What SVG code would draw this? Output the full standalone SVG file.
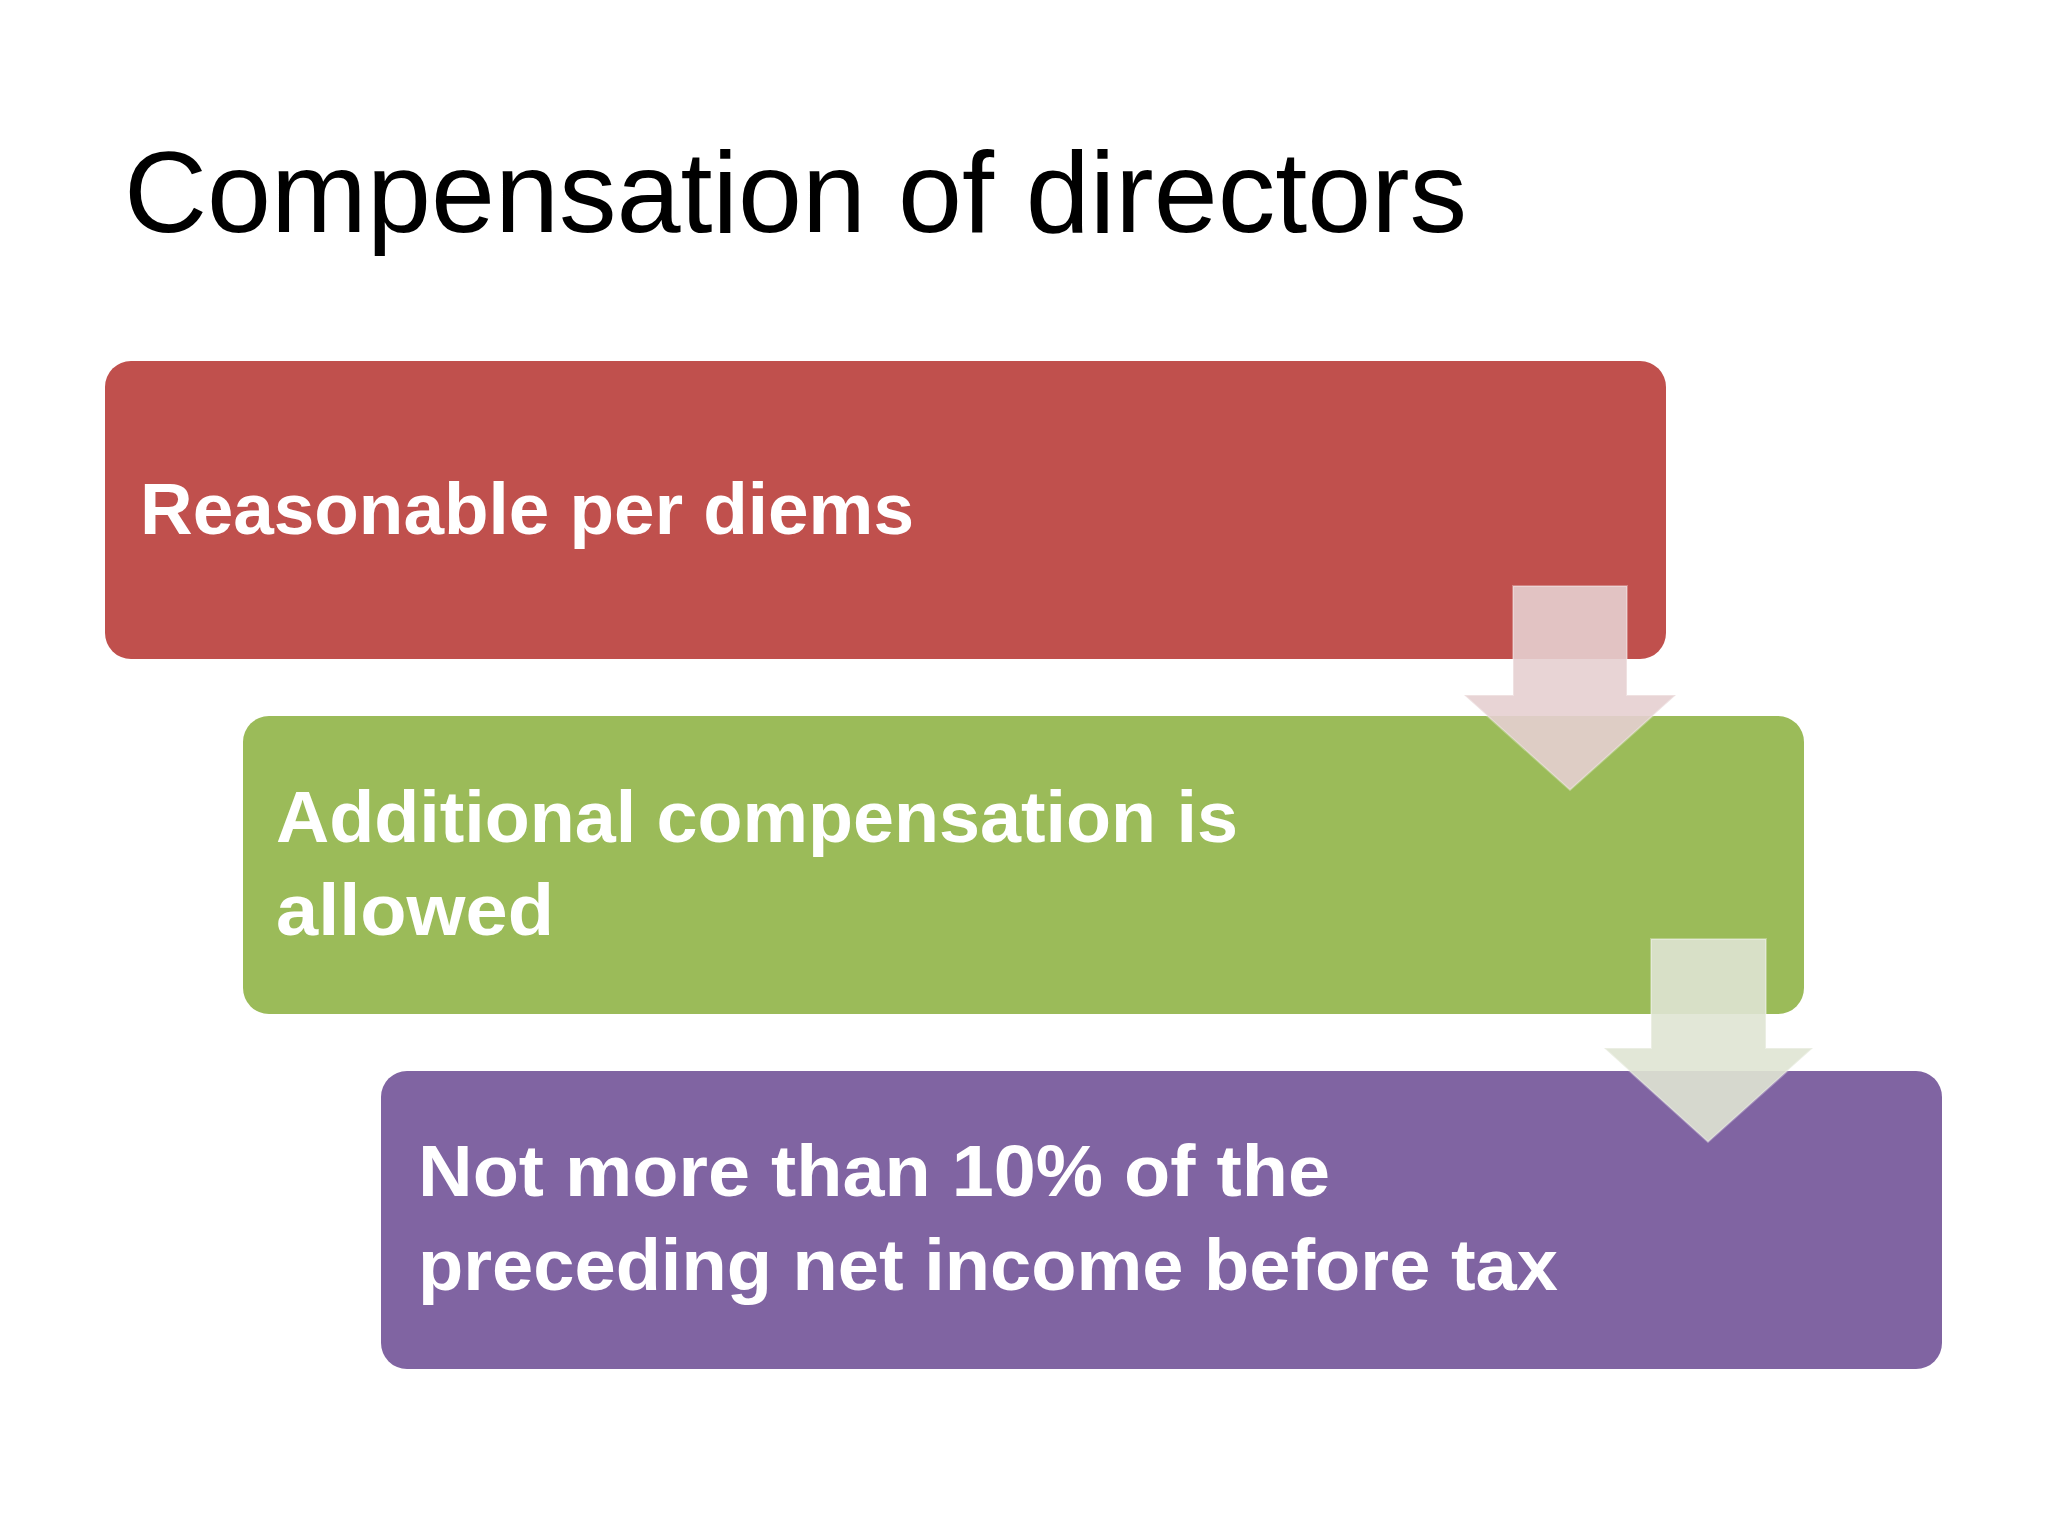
<svg xmlns="http://www.w3.org/2000/svg" width="2048" height="1536" viewBox="0 0 2048 1536">
<style>
.title{font-family:"Liberation Sans",Arial,sans-serif;font-size:115px;fill:#000}
.lbl{font-family:"Liberation Sans",Arial,sans-serif;font-size:73px;font-weight:bold;fill:#fff}
.arr1{fill:#E6CFD0;fill-opacity:0.9;stroke:#fff;stroke-opacity:0.3;stroke-width:2}
.arr2{fill:#DFE4D3;fill-opacity:0.9;stroke:#fff;stroke-opacity:0.3;stroke-width:2}
</style>
<rect width="2048" height="1536" fill="#fff"/>
<text class="title" x="124" y="232" textLength="1343" lengthAdjust="spacingAndGlyphs">Compensation of directors</text>
<g id="node1">
<rect x="105" y="361" width="1561" height="298" rx="26" fill="#C0504D"/>
<text class="lbl" x="140" y="534" textLength="774" lengthAdjust="spacingAndGlyphs">Reasonable per diems</text>
</g>
<g id="node2">
<rect x="243" y="716" width="1561" height="298" rx="26" fill="#9BBB59"/>
<text class="lbl" x="276" y="842" textLength="962" lengthAdjust="spacingAndGlyphs">Additional compensation is</text>
<text class="lbl" x="276" y="935" textLength="278" lengthAdjust="spacingAndGlyphs">allowed</text>
</g>
<g id="node3">
<rect x="381" y="1071" width="1561" height="298" rx="26" fill="#8064A2"/>
<text class="lbl" x="418" y="1196" textLength="912" lengthAdjust="spacingAndGlyphs">Not more than 10% of the</text>
<text class="lbl" x="418" y="1290" textLength="1140" lengthAdjust="spacingAndGlyphs">preceding net income before tax</text>
</g>
<g id="connectors">
<polygon class="arr1" points="1513,586 1627,586 1627,695 1676,695 1570,790 1464,695 1513,695"/>
<polygon class="arr2" points="1651,939 1766,939 1766,1048 1813,1048 1708,1142 1604,1048 1651,1048"/>
</g>
</svg>
